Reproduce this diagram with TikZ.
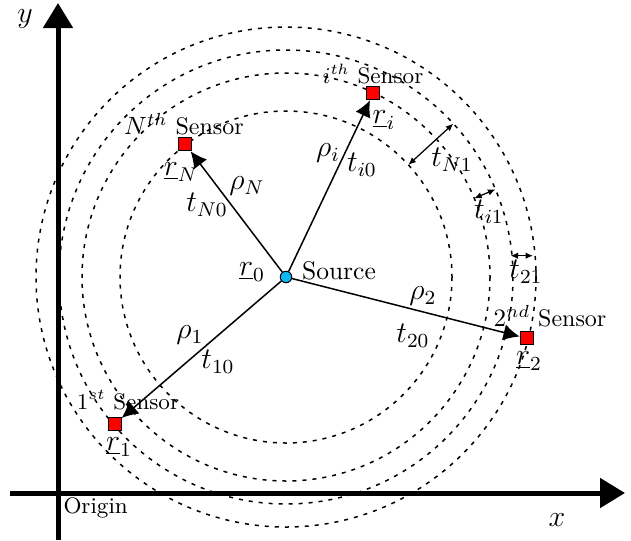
\documentclass[tikz,border=0pt]{standalone}
\usetikzlibrary{arrows.meta,calc}
\definecolor{srcblue}{RGB}{10,185,240}
\begin{document}
\begin{tikzpicture}[x=0.4pt,y=-0.4pt,
  circ/.style={draw,line width=0.6pt,dash pattern=on 1.6pt off 2.4pt},
  axisline/.style={line width=2pt,-{Triangle[length=10pt,width=11.6pt]}},
  sens/.style={draw,line width=0.4pt,fill=red,minimum size=5.2pt,inner sep=0pt,rectangle},
  srcnode/.style={draw,line width=0.4pt,fill=srcblue,circle,minimum size=4.6pt,inner sep=0pt},
  ray/.style={line width=0.6pt,-{Latex[length=6.5pt,width=6.5pt]}},
  gaparrow/.style={line width=0.5pt,{Latex[length=3pt,width=2.6pt]}-{Latex[length=3pt,width=2.6pt]}},
  lab/.style={inner sep=0pt,font=\fontsize{11.5}{13}\selectfont},
  senslab/.style={inner sep=0pt,font=\fontsize{9.6}{11}\selectfont},
  senslabs/.style={inner sep=0pt,font=\fontsize{9}{10}\selectfont},
]
\useasboundingbox (0,0) rectangle (631,540);
% axes
\coordinate (xs) at (10,493); \coordinate (xe) at (625,493);
\coordinate (ys) at (58,540); \coordinate (ye) at (58,3);
\draw[axisline] (xs) -- (xe);
\draw[axisline] (ys) -- (ye);
\node[lab] (ylab) at (25,19) {$y$};
\node[lab] (xlab) at (557,520) {$x$};
\node[senslabs,anchor=west] (orig) at (63,508) {Origin};
% source and circles
\coordinate (s0) at (286,277);
\foreach \r in {166,204,227,250} \draw[circ] (s0) circle[radius=\r];
% sensors
\node[sens] (sN) at (185.3,144.3) {};
\node[sens] (si) at (373.3,93.3) {};
\node[sens] (s2) at (526.7,338.3) {};
\node[sens] (s1) at (114.7,424) {};
\node[srcnode] (src) at (s0) {};
\draw[ray] (src) -- (sN);
\draw[ray] (src) -- (si);
\draw[ray] (src) -- (s2);
\draw[ray] (src) -- (s1);
% gap arrows
\coordinate (aN1) at ($(s0)+(-42.5:166)$);
\coordinate (bN1) at ($(s0)+(-42.5:227)$);
\coordinate (ai1) at ($(s0)+(-22.7:204)$);
\coordinate (bi1) at ($(s0)+(-22.7:227)$);
\coordinate (a21) at (510.5,255.7);
\coordinate (b21) at (533,255.7);
\draw[gaparrow] (aN1) -- (bN1);
\draw[gaparrow] (ai1) -- (bi1);
\draw[gaparrow] (a21) -- (b21);
% labels
\node[senslab] (lN) at (184,124) {$N^{th}$ Sensor};
\node[senslabs] (li) at (373,74) {$i^{th}$ Sensor};
\node[senslab] (l2) at (550,316) {$2^{nd}$ Sensor};
\node[senslabs] (l1) at (128,400) {$1^{st}$ Sensor};
\node[lab] (rN) at (181,172) {$\underline{r}_N$};
\node[lab] (ri) at (384,120) {$\underline{r}_i$};
\node[lab] (r2) at (529,361) {$\underline{r}_2$};
\node[lab] (r1) at (119,447) {$\underline{r}_1$};
\node[lab] (r0) at (252,272) {$\underline{r}_0$};
\node[inner sep=0pt,font=\fontsize{10.2}{12}\selectfont] (srclab) at (339,271) {Source};
\node[lab] (rhoN) at (247,186) {$\rho_N$};
\node[lab] (tN0) at (207,205) {$t_{N0}$};
\node[lab] (rhoi) at (328,153) {$\rho_i$};
\node[lab] (ti0) at (362,165) {$t_{i0}$};
\node[lab] (rho2) at (423,296) {$\rho_2$};
\node[lab] (t20) at (413,336) {$t_{20}$};
\node[lab] (rho1) at (190,335) {$\rho_1$};
\node[lab] (t10) at (218,362) {$t_{10}$};
\node[lab] (tN1) at (452,160) {$t_{N1}$};
\node[lab] (ti1) at (489,212) {$t_{i1}$};
\node[lab] (t21) at (526,272) {$t_{21}$};
\end{tikzpicture}
\end{document}
